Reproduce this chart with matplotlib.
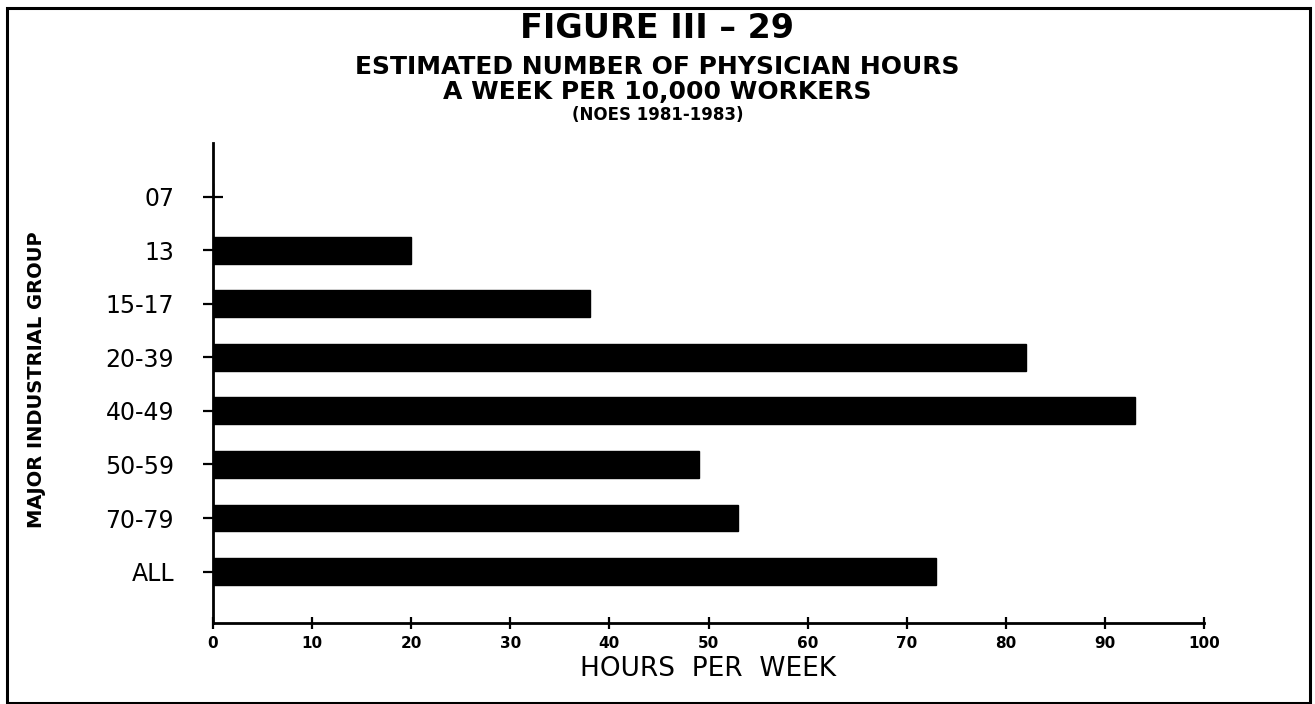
import matplotlib
matplotlib.use("Agg")
import matplotlib.pyplot as plt
from matplotlib.patches import Rectangle

categories = ["07", "13", "15-17", "20-39", "40-49", "50-59", "70-79", "ALL"]
hours = [0, 20, 38, 82, 93, 49, 53, 73]
x_ticks = [0, 10, 20, 30, 40, 50, 60, 70, 80, 90, 100]

fig = plt.figure(figsize=(13.15, 7.04), dpi=100)
fig.patch.set_facecolor("white")

# outer frame
fig.add_artist(Rectangle((7 / 1315, 1 - 703 / 704), (1310 - 7) / 1315, (703 - 8) / 704,
                         transform=fig.transFigure, fill=False, edgecolor="black", linewidth=2.2))

ax = fig.add_axes([213 / 1315, 81 / 704, (1204 - 213) / 1315, (623 - 143) / 704])
ypos = list(range(len(categories)))
ax.barh(ypos, hours, height=0.5, color="black", edgecolor="black")
ax.set_xlim(0, 100)
ax.set_ylim(7.96, -1.0)
ax.set_yticks(ypos)
ax.set_yticklabels(categories, fontsize=17, family="DejaVu Sans")
ax.set_xticks(x_ticks)
ax.set_xticklabels([str(v) for v in x_ticks], fontsize=11, fontweight="bold", family="DejaVu Sans")
for s in ["top", "right"]:
    ax.spines[s].set_visible(False)
for s in ["left", "bottom"]:
    ax.spines[s].set_linewidth(2.0)
ax.tick_params(axis="y", direction="inout", length=14, width=1.6, pad=21)
ax.tick_params(axis="x", direction="inout", length=8, width=1.6, pad=5)

ax.set_xlabel("HOURS  PER  WEEK", fontsize=19, family="DejaVu Sans", labelpad=4)
fig.text(37 / 1315, 1 - 380 / 704, "MAJOR INDUSTRIAL GROUP", rotation=90, ha="center", va="center",
         fontsize=14, fontweight="bold", family="DejaVu Sans")

fig.text(0.5, 1 - 28 / 704, "FIGURE III \u2013 29", ha="center", va="center",
         fontsize=24, fontweight="bold", family="DejaVu Sans")
fig.text(0.5, 1 - 67 / 704, "ESTIMATED NUMBER OF PHYSICIAN HOURS", ha="center", va="center",
         fontsize=18, fontweight="heavy", family="DejaVu Sans")
fig.text(0.5, 1 - 92 / 704, "A WEEK PER 10,000 WORKERS", ha="center", va="center",
         fontsize=18, fontweight="heavy", family="DejaVu Sans")
fig.text(0.5, 1 - 115 / 704, "(NOES 1981-1983)", ha="center", va="center",
         fontsize=12, fontweight="heavy", family="DejaVu Sans")

fig.savefig("out.png", dpi=100, facecolor="white")
